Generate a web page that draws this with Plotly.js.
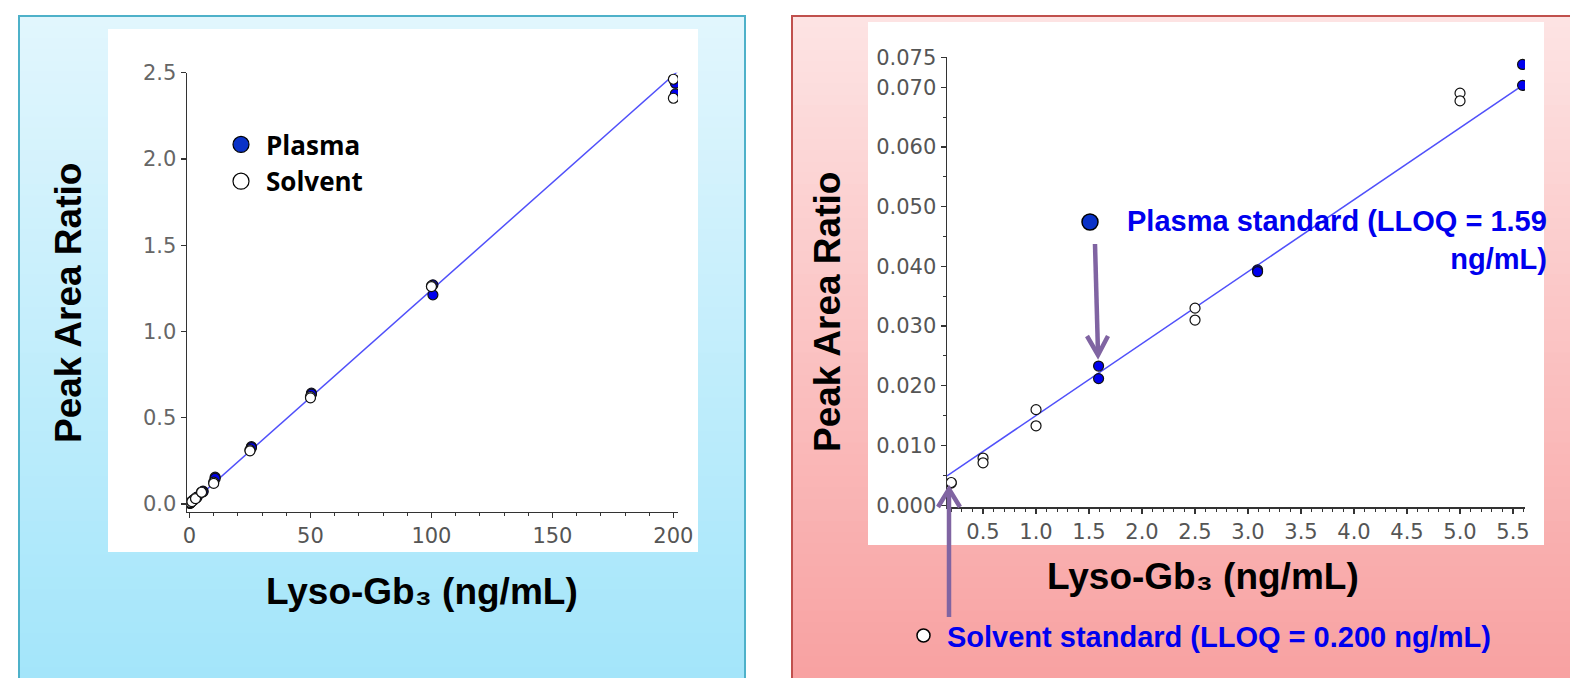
<!DOCTYPE html>
<html>
<head>
<meta charset="utf-8">
<script src="https://cdn.plot.ly/plotly-3.0.1.min.js"></script>
<style>
  html, body { margin: 0; padding: 0; background: #ffffff; }
  #chart { width: 1570px; height: 678px; }
</style>
</head>
<body>
<div id="chart"></div>
<script>
// ---------------- data ----------------
const solventConc  = [0.2, 0.2, 0.5, 0.5, 1.0, 1.0, 2.5, 2.5, 5.0, 5.0, 10, 10, 25, 25, 50, 50, 100, 100, 200, 200];
const solventRatio = [0.0037, 0.0038, 0.0079, 0.0071, 0.0160, 0.0133, 0.0330, 0.0310, 0.0690, 0.0677,
                      0.126, 0.119, 0.313, 0.308, 0.622, 0.615, 1.264, 1.260, 2.462, 2.352];

const plasmaConc  = [1.59, 1.59, 3.09, 3.09, 5.59, 5.59, 10.6, 10.6, 25.6, 25.6, 50.4, 50.4, 100.6, 100.6, 200.8, 200.8];
const plasmaRatio = [0.0233, 0.0212, 0.0394, 0.0391, 0.0738, 0.0703, 0.155, 0.148, 0.332, 0.327,
                     0.642, 0.636, 1.270, 1.212, 2.439, 2.377];

// regression lines as drawn
const leftFitX  = [-1.5, 201.7];
const leftFitY  = [-0.024, 2.507];
const rightFitX = [0.16, 5.59];
const rightFitY = [0.0049, 0.0703];

// tick labels
const rightYTickVals = [0, 0.01, 0.02, 0.03, 0.04, 0.05, 0.06, 0.07, 0.075];
const rightYTickText = ['0.000', '0.010', '0.020', '0.030', '0.040', '0.050', '0.060', '0.070', '0.075'];

// text
const seriesNames = ['Plasma', 'Solvent'];
const yTitle = 'Peak Area Ratio';
const xTitle = 'Lyso-Gb\u2083 (ng/mL)';
const plasmaNote  = 'Plasma standard (LLOQ = 1.59<br>ng/mL)';
const solventNote = 'Solvent standard (LLOQ = 0.200 ng/mL)';

// ---------------- helpers ----------------
const W = 1570, H = 678;
const X = px => px / W;
const Y = py => 1 - py / H;

function hexToRgb(h) { return [parseInt(h.slice(1,3),16), parseInt(h.slice(3,5),16), parseInt(h.slice(5,7),16)]; }
function gradientStrips(x0, x1, y0, y1, cTop, cBot, n) {
  const a = hexToRgb(cTop), b = hexToRgb(cBot);
  const out = [];
  const step = (y1 - y0) / n;
  for (let i = 0; i < n; i++) {
    const t = (i + 0.5) / n;
    const c = a.map((v, k) => Math.round(v + (b[k] - v) * t));
    out.push({
      type: 'rect', xref: 'paper', yref: 'paper', layer: 'below',
      x0: X(x0), x1: X(x1), y0: Y(y0 + i * step - 0.5), y1: Y(y0 + (i + 1) * step + 0.5),
      fillcolor: `rgb(${c[0]},${c[1]},${c[2]})`, line: { width: 0 }
    });
  }
  return out;
}

const shapes = [];
// left panel (blue)
shapes.push(...gradientStrips(19, 745, 16, 690, '#e2f6fd', '#a2e5fa', 60));
shapes.push({ type: 'rect', xref: 'paper', yref: 'paper', layer: 'below',
  x0: X(19), x1: X(745), y0: Y(16), y1: Y(700), line: { color: '#4eb1c9', width: 2 }, fillcolor: 'rgba(0,0,0,0)' });
shapes.push({ type: 'rect', xref: 'paper', yref: 'paper', layer: 'below',
  x0: X(108), x1: X(698), y0: Y(29), y1: Y(552), line: { width: 0 }, fillcolor: '#ffffff' });
// right panel (red)
shapes.push(...gradientStrips(792, 1580, 16, 690, '#fde4e4', '#f8a0a0', 60));
shapes.push({ type: 'rect', xref: 'paper', yref: 'paper', layer: 'below',
  x0: X(792), x1: X(1590), y0: Y(16), y1: Y(700), line: { color: '#c0504d', width: 2 }, fillcolor: 'rgba(0,0,0,0)' });
shapes.push({ type: 'rect', xref: 'paper', yref: 'paper', layer: 'below',
  x0: X(868), x1: X(1544), y0: Y(22), y1: Y(545), line: { width: 0 }, fillcolor: '#ffffff' });

// arrows (purple)
const arrowColor = '#8064a2';
shapes.push({ type: 'path', xref: 'paper', yref: 'paper', layer: 'above',
  path: `M ${X(1095)},${Y(244)} L ${X(1098)},${Y(353)}`, line: { color: arrowColor, width: 4.5 } });
shapes.push({ type: 'path', xref: 'paper', yref: 'paper', layer: 'above',
  path: `M ${X(1087)},${Y(336)} L ${X(1098)},${Y(355)} L ${X(1108)},${Y(336)}`, line: { color: arrowColor, width: 4.5 } });
shapes.push({ type: 'path', xref: 'paper', yref: 'paper', layer: 'above',
  path: `M ${X(949)},${Y(617)} L ${X(949)},${Y(491)}`, line: { color: arrowColor, width: 4.5 } });
shapes.push({ type: 'path', xref: 'paper', yref: 'paper', layer: 'above',
  path: `M ${X(938)},${Y(507)} L ${X(949)},${Y(489)} L ${X(960)},${Y(507)}`, line: { color: arrowColor, width: 4.5 } });

// symbols beside the right-hand notes
shapes.push({ type: 'circle', xref: 'paper', yref: 'paper', layer: 'above',
  x0: X(1082), x1: X(1098), y0: Y(230), y1: Y(214), fillcolor: '#0a32c8', line: { color: '#000', width: 1.5 } });
shapes.push({ type: 'circle', xref: 'paper', yref: 'paper', layer: 'above',
  x0: X(917), x1: X(930), y0: Y(642), y1: Y(629), fillcolor: '#ffffff', line: { color: '#000', width: 1.5 } });

// ---------------- traces ----------------
const plasmaMarker  = { symbol: 'circle', size: 10, color: '#0000ee', line: { color: '#111', width: 1.2 } };
const solventMarker = { symbol: 'circle', size: 10, color: '#ffffff', line: { color: '#111', width: 1.2 } };
const fitLine = { color: 'rgb(80,80,250)', width: 1.5 };

const traces = [
  // left panel
  { type: 'scatter', mode: 'lines', x: leftFitX, y: leftFitY, xaxis: 'x', yaxis: 'y', line: fitLine, showlegend: false, hoverinfo: 'skip' },
  { type: 'scatter', mode: 'markers', x: plasmaConc, y: plasmaRatio, xaxis: 'x', yaxis: 'y', marker: plasmaMarker, showlegend: false, name: seriesNames[0] },
  { type: 'scatter', mode: 'markers', x: solventConc, y: solventRatio, xaxis: 'x', yaxis: 'y', marker: solventMarker, showlegend: false, name: seriesNames[1] },
  // legend entries
  { type: 'scatter', mode: 'markers', x: [null], y: [null], xaxis: 'x', yaxis: 'y', name: seriesNames[0],
    marker: { symbol: 'circle', size: 16, color: '#0a32c8', line: { color: '#000', width: 1.2 } } },
  { type: 'scatter', mode: 'markers', x: [null], y: [null], xaxis: 'x', yaxis: 'y', name: seriesNames[1],
    marker: { symbol: 'circle', size: 16, color: '#ffffff', line: { color: '#000', width: 1.2 } } },
  // right panel
  { type: 'scatter', mode: 'lines', x: rightFitX, y: rightFitY, xaxis: 'x2', yaxis: 'y2', line: fitLine, showlegend: false, hoverinfo: 'skip' },
  { type: 'scatter', mode: 'markers', x: plasmaConc, y: plasmaRatio, xaxis: 'x2', yaxis: 'y2', marker: plasmaMarker, showlegend: false, name: 'Plasma standard' },
  { type: 'scatter', mode: 'markers', x: solventConc, y: solventRatio, xaxis: 'x2', yaxis: 'y2', marker: solventMarker, showlegend: false, name: 'Solvent standard' }
];

// ---------------- axes ----------------
const tickFont = { family: 'DejaVu Sans', size: 21, color: '#555555' };
const axisBase = {
  showline: true, linecolor: '#333333', linewidth: 1.5, mirror: false,
  ticks: 'outside', ticklen: 5, tickwidth: 1.3, tickcolor: '#333333',
  showgrid: false, zeroline: false, tickfont: tickFont, fixedrange: true
};

const titleFont = { family: 'Liberation Sans, Arial, sans-serif', size: 37, color: '#000000', weight: 'bold' };
const noteFont  = { family: 'Liberation Sans, Arial, sans-serif', size: 29, color: '#0000ee', weight: 'bold' };

const layout = {
  width: W, height: H,
  margin: { l: 0, r: 0, t: 0, b: 0 },
  paper_bgcolor: '#ffffff', plot_bgcolor: 'rgba(0,0,0,0)',
  showlegend: true,
  legend: {
    x: X(216), y: Y(121), xanchor: 'left', yanchor: 'top',
    bgcolor: 'rgba(0,0,0,0)', borderwidth: 0, tracegroupgap: 0, itemwidth: 40,
    font: { family: 'Open Sans', size: 26, color: '#000000', weight: 'bold' }
  },
  xaxis: Object.assign({}, axisBase, {
    domain: [X(187), X(678)], range: [-1.03, 201.9], anchor: 'y',
    tick0: 0, dtick: 50,
    minor: { dtick: 10, tick0: 0, ticks: 'outside', ticklen: 3, tickcolor: '#333333', tickwidth: 1 }
  }),
  yaxis: Object.assign({}, axisBase, {
    domain: [Y(511.7), Y(72.7)], range: [-0.045, 2.5], anchor: 'x',
    tick0: 0, dtick: 0.5, tickformat: '.1f', tickfont: Object.assign({}, tickFont, { color: '#666666' })
  }),
  xaxis2: Object.assign({}, axisBase, {
    domain: [X(947), X(1525)], range: [0.16, 5.613], anchor: 'y2',
    tick0: 0, dtick: 0.5, tickformat: '.1f',
    minor: { dtick: 0.1, tick0: 0, ticks: 'outside', ticklen: 3, tickcolor: '#333333', tickwidth: 1 }
  }),
  yaxis2: Object.assign({}, axisBase, {
    domain: [Y(507), Y(57.3)], range: [-0.0003, 0.075], anchor: 'x2',
    tickmode: 'array', tickvals: rightYTickVals, ticktext: rightYTickText,
    minor: { tickmode: 'linear', dtick: 0.005, tick0: 0, ticks: 'outside', ticklen: 3, tickcolor: '#333333', tickwidth: 1 }
  }),
  shapes: shapes,
  annotations: [
    { text: yTitle, xref: 'paper', yref: 'paper', x: X(69), y: Y(303), textangle: -90,
      xanchor: 'center', yanchor: 'middle', showarrow: false, font: titleFont },
    { text: xTitle, xref: 'paper', yref: 'paper', x: X(422), y: Y(591),
      xanchor: 'center', yanchor: 'middle', showarrow: false, font: titleFont },
    { text: yTitle, xref: 'paper', yref: 'paper', x: X(827), y: Y(312), textangle: -90,
      xanchor: 'center', yanchor: 'middle', showarrow: false, font: titleFont },
    { text: xTitle, xref: 'paper', yref: 'paper', x: X(1203), y: Y(576),
      xanchor: 'center', yanchor: 'middle', showarrow: false, font: titleFont },
    { text: plasmaNote, xref: 'paper', yref: 'paper', x: X(1549), y: Y(240),
      xanchor: 'right', yanchor: 'middle', align: 'right', showarrow: false, font: noteFont },
    { text: solventNote, xref: 'paper', yref: 'paper', x: X(945), y: Y(637),
      xanchor: 'left', yanchor: 'middle', align: 'left', showarrow: false, font: noteFont }
  ]
};

Plotly.newPlot('chart', traces, layout, { displayModeBar: false, staticPlot: true });
</script>
</body>
</html>
